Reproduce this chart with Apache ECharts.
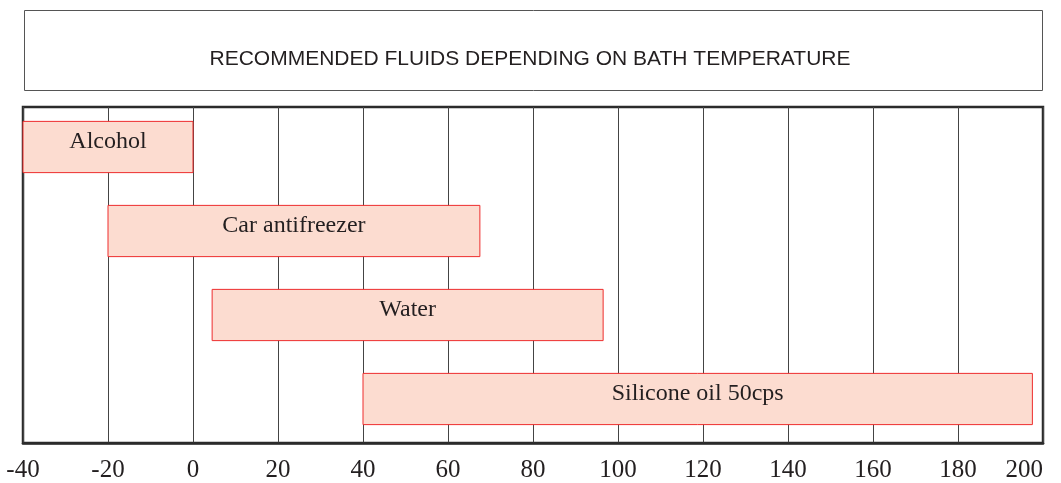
<!DOCTYPE html>
<html>
<head>
<meta charset="utf-8">
<script src="https://cdn.jsdelivr.net/npm/echarts@6/dist/echarts.min.js"></script>
<style>
  html, body { margin: 0; padding: 0; background: #fff; }
  #demo { width: 1061px; height: 483px; }
</style>
</head>
<body>
<div id="demo"></div>
<script>
// 数据：每种液体适用的温度范围
var fluids = ['Alcohol', 'Car antifreezer', 'Water', 'Silicone oil 50cps'];
var tempFrom = [-40, -20, 4.5, 40];
var tempTo = [0, 67.5, 96.5, 197.5];
var axisMin = -40;
var axisMax = 200;
var axisStep = 20;

// 组装成custom系列要的格式 [起点, 终点, 行号]
var params = [];
for (var i = 0; i < fluids.length; i++) {
    params.push([tempFrom[i], tempTo[i], i]);
}

var chartDom = document.getElementById('demo');
var myChart = echarts.init(chartDom);
var option;
option = {
    animation: false,
    title: {
        text: 'RECOMMENDED FLUIDS DEPENDING ON BATH TEMPERATURE',
        left: 525,
        top: 44,
        textAlign: 'center',
        textStyle: {
            fontFamily: 'Liberation Sans',
            fontSize: 21,
            fontWeight: 'normal',
            color: '#231f20'
        }
    },
    graphic: [{
        type: 'rect',
        shape: { x: 24.5, y: 10.5, width: 1018, height: 80 },
        style: { fill: 'none', stroke: '#555', lineWidth: 1 },
        z: 0
    }],
    grid: {
        left: 23,
        right: 18,
        top: 107,
        bottom: 38,
        show: true,
        borderColor: '#2b2b2b',
        borderWidth: 2.5
    },
    xAxis: {
        type: 'value',
        min: axisMin,
        max: axisMax,
        interval: axisStep,
        axisLine: { show: true, lineStyle: { color: '#2b2b2b', width: 2.5 } },
        axisTick: { show: false },
        splitLine: { show: true, lineStyle: { color: '#444', width: 1 } },
        axisLabel: {
            margin: 15,
            fontFamily: 'Liberation Serif',
            fontSize: 25,
            color: '#231f20',
            alignMaxLabel: 'right'
        }
    },
    yAxis: {
        type: 'category',
        data: fluids,
        inverse: true,
        axisLine: { show: false },
        axisTick: { show: false },
        axisLabel: { show: false },
        splitLine: { show: false }
    },
    series: [{
        type: 'custom',
        data: params,
        encode: { x: [0, 1], y: 2 },
        renderItem: function (p, api) {
            var start = api.coord([api.value(0), api.value(2)]);
            var end = api.coord([api.value(1), api.value(2)]);
            var h = api.size([0, 1])[1] * 0.61;
            var y0 = start[1] - h / 2 - 2;
            return {
                type: 'group',
                children: [{
                    type: 'rect',
                    shape: { x: start[0], y: y0, width: end[0] - start[0], height: h },
                    style: { fill: '#fcdcd0', stroke: '#ee2d2d', lineWidth: 1 }
                }, {
                    type: 'text',
                    style: {
                        x: (start[0] + end[0]) / 2,
                        y: y0 + h / 2 - 5,
                        text: fluids[api.value(2)],
                        align: 'center',
                        verticalAlign: 'middle',
                        font: '24px "Liberation Serif"',
                        fill: '#231f20'
                    }
                }]
            };
        }
    }]
};
option && myChart.setOption(option);
</script>
</body>
</html>
